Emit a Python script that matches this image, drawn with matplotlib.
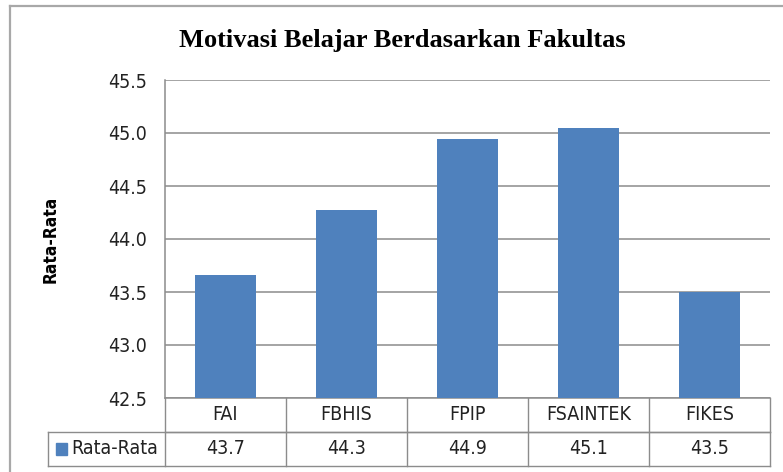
import matplotlib
matplotlib.use("Agg")
import matplotlib.pyplot as plt
from matplotlib.patches import Rectangle
from matplotlib.lines import Line2D

categories = ["FAI", "FBHIS", "FPIP", "FSAINTEK", "FIKES"]
values = [43.66, 44.27, 44.94, 45.05, 43.5]
table_labels = ["43.7", "44.3", "44.9", "45.1", "43.5"]
series_name = "Rata-Rata"
title = "Motivasi Belajar Berdasarkan Fakultas"
y_ticks = [42.5, 43.0, 43.5, 44.0, 44.5, 45.0, 45.5]

W, H = 783, 472
fig = plt.figure(figsize=(W / 100, H / 100), dpi=100)

sans = ["DejaVu Sans"]
fkw = dict(family=sans, fontstretch="condensed")
bar_color = "#4F81BD"
grid_color = "#8C8C8C"
txt_color = "#222222"

# outer chart border (square corners)
fig.add_artist(Line2D([10 / W, 10 / W], [0, 1 - 5.5 / H], transform=fig.transFigure,
                      color="#A8A8A8", lw=1.6))
fig.add_artist(Line2D([10 / W, 1], [1 - 5.5 / H, 1 - 5.5 / H], transform=fig.transFigure,
                      color="#A8A8A8", lw=1.6))

left, right, top, bottom = 165, 770, 80, 398
ax = fig.add_axes([left / W, 1 - bottom / H, (right - left) / W, (bottom - top) / H])
x = list(range(len(categories)))
ax.bar(x, values, width=0.51, color=bar_color, zorder=3)
ax.set_xlim(-0.5, len(categories) - 0.5)
ax.set_ylim(42.5, 45.5)
ax.set_yticks(y_ticks)
ax.set_yticklabels([f"{t:.1f}" for t in y_ticks], fontsize=14, **fkw)
ax.tick_params(axis="y", length=0, pad=13, colors=txt_color)
ax.set_xticks([])
ax.grid(axis="y", color=grid_color, linewidth=1.1, zorder=0)
for s in ["top", "right"]:
    ax.spines[s].set_visible(False)
ax.spines["left"].set_color(grid_color)
ax.spines["left"].set_linewidth(1.1)
ax.spines["bottom"].set_color(grid_color)
ax.spines["bottom"].set_linewidth(1.1)

ax.set_ylabel(series_name, family=sans, fontstretch="condensed", fontweight="bold",
              fontsize=12.5, labelpad=2)
ax.yaxis.set_label_coords((60 - left) / (right - left), 0.5)

fig.text(402 / W, 1 - 40 / H, title, ha="center", va="center",
         family=["Liberation Serif", "DejaVu Serif"], fontweight="bold", fontsize=19)

# data table below axes
axh = bottom - top
r1 = -(432 - bottom) / axh
r2 = -(466 - bottom) / axh
tx = ax.get_xaxis_transform()
tl = ax.transAxes
lw = 1.0
lc = "#8C8C8C"
n = len(categories)
ax.add_line(Line2D([-0.5, n - 0.5], [r1, r1], transform=tx, color=lc, lw=lw, clip_on=False))
xl = (48 - left) / (right - left)
ax.add_line(Line2D([xl, 1], [r1, r1], transform=tl, color=lc, lw=lw, clip_on=False))
ax.add_line(Line2D([xl, 1], [r2, r2], transform=tl, color=lc, lw=lw, clip_on=False))
ax.add_line(Line2D([xl, xl], [r1, r2], transform=tl, color=lc, lw=lw, clip_on=False))
for i in range(n + 1):
    ax.add_line(Line2D([i - 0.5, i - 0.5], [0, r2], transform=tx, color=lc, lw=lw, clip_on=False))
for i, (c, v) in enumerate(zip(categories, table_labels)):
    ax.text(i, r1 / 2, c, transform=tx, ha="center", va="center", fontsize=14, color=txt_color, **fkw)
    ax.text(i, (r1 + r2) / 2, v, transform=tx, ha="center", va="center", fontsize=14, color=txt_color, **fkw)

# legend key in table
ax.add_patch(Rectangle(((56 - left) / (right - left), (r1 + r2) / 2 - 6 / axh), 11 / (right - left), 12 / axh,
                       transform=tl, color=bar_color, clip_on=False))
ax.text((71 - left) / (right - left), (r1 + r2) / 2, series_name, transform=tl, ha="left", va="center",
        fontsize=14, color=txt_color, **fkw)

fig.savefig("out.png", dpi=100)
